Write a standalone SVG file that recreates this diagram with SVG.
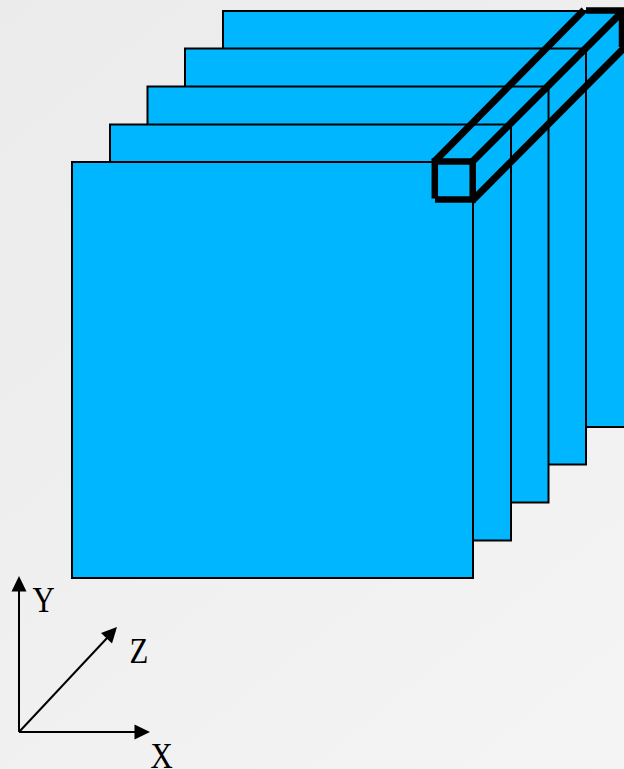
<svg xmlns="http://www.w3.org/2000/svg" width="624" height="769" viewBox="0 0 624 769">
<style>
.sheet{fill:#00b6ff;stroke:#000;stroke-width:2}
.bar{fill:none;stroke:#000;stroke-width:6.500}
.diag{fill:none;stroke:#000;stroke-width:7}
.axis{fill:none;stroke:#000;stroke-width:2}
.ahead{fill:#000;stroke:none}
text{font-family:"Liberation Serif","Times New Roman",serif;font-size:35px;fill:#000}
</style>
<defs>
<linearGradient id="bg" gradientUnits="userSpaceOnUse" x1="0" y1="0" x2="624" y2="769">
<stop offset="0" stop-color="#ebebeb"/>
<stop offset="1" stop-color="#f4f4f4"/>
</linearGradient>
</defs>
<rect id="background" width="624" height="769" fill="url(#bg)"/>
<g id="sheet-5"><rect class="sheet" x="223" y="11" width="402" height="416"/></g>
<g id="sheet-4"><rect class="sheet" x="185" y="48.500" width="401" height="416"/></g>
<g id="sheet-3"><rect class="sheet" x="147.500" y="86.500" width="401" height="416"/></g>
<g id="sheet-2"><rect class="sheet" x="110" y="124.500" width="401" height="416"/></g>
<g id="sheet-1"><rect class="sheet" x="72" y="162" width="401" height="416"/></g>
<g id="beam">
<path class="bar" d="M434.800 158.500V198.500M435 199.500H476M432 161.500H476M472.700 158.500V202.700"/>
<path class="diag" d="M434 162L584 10M472 162L623 11M472 201L626 46"/>
<path class="bar" d="M586 10.500H624M622 7.500V47"/>
</g>
<g id="connectors">
<path class="axis" d="M19 732V590"/>
<polygon class="ahead" points="19,576 11.500,591.500 26.500,591.500"/>
<path class="axis" d="M19 732L108 637"/>
<polygon class="ahead" points="117,627 112,643.500 101,633"/>
<path class="axis" d="M19 732H136"/>
<polygon class="ahead" points="150,732 134.500,724.500 134.500,739.500"/>
</g>
<g id="label-y"><text transform="translate(32.500 612) scale(.88 1)">Y</text></g>
<g id="label-z"><text transform="translate(129.500 663) scale(.88 1)">Z</text></g>
<g id="label-x"><text transform="translate(150.500 768) scale(.88 1)">X</text></g>
</svg>
